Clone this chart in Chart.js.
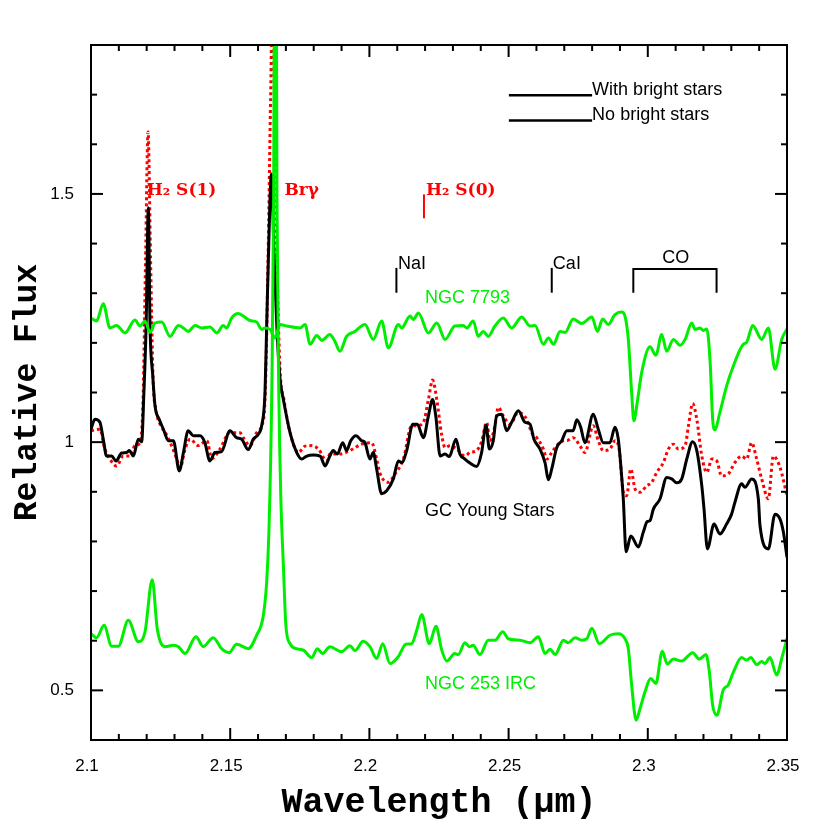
<!DOCTYPE html>
<html>
<head>
<meta charset="utf-8">
<script src="https://cdn.jsdelivr.net/npm/chart.js@4.4.1/dist/chart.umd.min.js"></script>
<style>
  html, body { margin: 0; background: #fff; }
  #wrap { width: 830px; height: 830px; }
</style>
</head>
<body>
<div id="wrap"><canvas id="Chart"></canvas></div>
<script>
// wavelength (micron) / relative flux
const ngc7793Wave = [2.1000,2.1020,2.1044,2.1068,2.1092,2.1122,2.1158,2.1176,2.1194,2.1212,2.1230,2.1254,2.1284,2.1314,2.1332,2.1349,2.1374,2.1398,2.1427,2.1452,2.1475,2.1487,2.1505,2.1529,2.1547,2.1571,2.1595,2.1613,2.1625,2.1643,2.1661,2.1679,2.1703,2.1751,2.1769,2.1787,2.1811,2.1829,2.1858,2.1876,2.1894,2.1918,2.1948,2.1984,2.2014,2.2044,2.2068,2.2104,2.2116,2.2146,2.2158,2.2176,2.2212,2.2242,2.2272,2.2307,2.2337,2.2350,2.2373,2.2391,2.2409,2.2427,2.2451,2.2481,2.2511,2.2547,2.2577,2.2595,2.2625,2.2643,2.2661,2.2685,2.2703,2.2732,2.2763,2.2799,2.2819,2.2838,2.2858,2.2882,2.2906,2.2918,2.2930,2.2942,2.2950,2.2962,2.2978,2.3008,2.3029,2.3050,2.3068,2.3092,2.3116,2.3134,2.3158,2.3170,2.3188,2.3199,2.3212,2.3224,2.3233,2.3241,2.3259,2.3283,2.3307,2.3343,2.3355,2.3377,2.3409,2.3433,2.3457,2.3481,2.3500];
const ngc7793Flux = [1.250,1.244,1.279,1.230,1.235,1.220,1.246,1.234,1.244,1.221,1.240,1.242,1.213,1.235,1.230,1.223,1.235,1.230,1.232,1.220,1.235,1.230,1.250,1.259,1.254,1.245,1.242,1.227,1.230,1.227,1.210,1.237,1.234,1.230,1.237,1.197,1.215,1.205,1.217,1.203,1.183,1.213,1.223,1.237,1.207,1.244,1.190,1.237,1.230,1.254,1.247,1.260,1.220,1.240,1.207,1.234,1.235,1.230,1.244,1.213,1.223,1.213,1.234,1.250,1.230,1.252,1.234,1.235,1.197,1.210,1.197,1.223,1.221,1.248,1.239,1.252,1.223,1.248,1.237,1.257,1.262,1.254,1.207,1.100,1.043,1.080,1.140,1.192,1.175,1.217,1.183,1.207,1.195,1.207,1.240,1.227,1.230,1.225,1.228,1.160,1.046,1.025,1.060,1.113,1.153,1.197,1.201,1.235,1.207,1.230,1.147,1.207,1.228];

const gcWithWave = [2.1000,2.1014,2.1032,2.1044,2.1056,2.1074,2.1090,2.1110,2.1128,2.1138,2.1152,2.1170,2.1182,2.1190,2.1198,2.1206,2.1212,2.1222,2.1230,2.1245,2.1260,2.1278,2.1296,2.1317,2.1332,2.1349,2.1367,2.1392,2.1409,2.1427,2.1445,2.1469,2.1499,2.1523,2.1541,2.1565,2.1583,2.1601,2.1613,2.1625,2.1631,2.1637,2.1648,2.1658,2.1668,2.1679,2.1691,2.1715,2.1739,2.1757,2.1775,2.1798,2.1823,2.1841,2.1858,2.1870,2.1885,2.1904,2.1918,2.1933,2.1952,2.1972,2.1984,2.2002,2.2014,2.2026,2.2044,2.2062,2.2086,2.2104,2.2116,2.2134,2.2156,2.2172,2.2194,2.2212,2.2227,2.2239,2.2254,2.2272,2.2287,2.2311,2.2325,2.2343,2.2361,2.2385,2.2403,2.2419,2.2431,2.2445,2.2457,2.2475,2.2493,2.2511,2.2535,2.2559,2.2577,2.2591,2.2613,2.2631,2.2643,2.2655,2.2673,2.2691,2.2709,2.2732,2.2745,2.2759,2.2774,2.2804,2.2822,2.2840,2.2864,2.2882,2.2894,2.2904,2.2912,2.2922,2.2939,2.2966,2.2984,2.2998,2.3008,2.3020,2.3044,2.3068,2.3086,2.3104,2.3122,2.3140,2.3161,2.3176,2.3194,2.3202,2.3214,2.3238,2.3259,2.3283,2.3301,2.3313,2.3337,2.3349,2.3373,2.3397,2.3403,2.3433,2.3457,2.3475,2.3487,2.3500];
const gcWithFlux = [1.026,1.046,1.040,1.006,0.972,0.972,0.962,0.978,0.979,0.983,0.972,1.006,1.001,1.100,1.234,1.472,1.234,1.133,1.073,1.046,1.026,1.003,1.003,0.942,0.979,1.023,1.013,1.013,0.999,0.962,0.979,0.981,1.023,1.009,1.006,0.985,1.006,1.016,1.033,1.100,1.234,1.367,1.540,1.367,1.227,1.127,1.086,1.019,0.979,0.966,0.972,0.974,0.972,0.952,0.972,0.983,0.976,0.999,0.983,1.003,1.013,1.003,0.999,0.966,0.979,0.946,0.896,0.902,0.926,0.962,0.959,0.983,1.036,1.036,1.009,1.053,1.086,1.050,0.972,0.976,0.971,1.006,0.976,0.966,0.958,0.951,0.979,1.034,0.986,1.003,1.053,1.056,1.023,1.040,1.063,1.040,1.036,1.006,0.986,0.958,0.924,0.946,0.989,1.003,1.023,1.023,1.045,1.030,0.999,1.056,1.026,0.999,0.999,1.030,1.006,0.946,0.886,0.779,0.811,0.789,0.819,0.840,0.842,0.865,0.886,0.929,0.926,0.918,0.926,0.966,1.001,0.983,0.912,0.865,0.785,0.835,0.815,0.835,0.855,0.879,0.916,0.909,0.926,0.886,0.832,0.785,0.855,0.845,0.819,0.768];

const gcNoWave = [2.1000,2.1032,2.1050,2.1068,2.1092,2.1116,2.1140,2.1158,2.1176,2.1187,2.1196,2.1205,2.1214,2.1223,2.1233,2.1248,2.1266,2.1284,2.1308,2.1320,2.1338,2.1356,2.1385,2.1416,2.1434,2.1463,2.1499,2.1535,2.1547,2.1571,2.1595,2.1613,2.1625,2.1636,2.1645,2.1652,2.1659,2.1668,2.1679,2.1693,2.1715,2.1745,2.1769,2.1793,2.1817,2.1847,2.1858,2.1894,2.1930,2.1972,2.2008,2.2026,2.2037,2.2068,2.2092,2.2122,2.2152,2.2170,2.2194,2.2212,2.2227,2.2242,2.2260,2.2272,2.2290,2.2314,2.2343,2.2361,2.2385,2.2403,2.2421,2.2433,2.2451,2.2463,2.2481,2.2505,2.2535,2.2565,2.2583,2.2601,2.2625,2.2637,2.2655,2.2673,2.2697,2.2709,2.2732,2.2756,2.2774,2.2804,2.2822,2.2840,2.2864,2.2882,2.2897,2.2912,2.2924,2.2939,2.2954,2.2972,2.2996,2.3014,2.3032,2.3056,2.3074,2.3092,2.3110,2.3134,2.3146,2.3161,2.3176,2.3194,2.3212,2.3230,2.3248,2.3265,2.3289,2.3313,2.3337,2.3355,2.3373,2.3391,2.3409,2.3433,2.3451,2.3475,2.3500];
const gcNoFlux = [1.023,1.026,0.986,0.966,0.952,0.972,0.972,0.993,0.999,1.086,1.367,1.625,1.367,1.127,1.066,1.036,1.020,1.000,0.966,0.948,0.986,1.006,0.993,1.003,0.967,0.986,1.019,1.019,1.009,0.993,1.019,1.033,1.086,1.367,1.689,1.890,1.689,1.367,1.147,1.086,1.019,0.979,0.992,0.993,0.986,0.962,0.976,0.976,0.983,0.996,0.999,0.966,0.939,0.919,0.936,0.966,1.033,1.033,1.040,1.086,1.125,1.086,1.013,0.989,0.993,0.986,0.972,0.979,0.983,1.001,1.040,1.003,1.033,1.070,1.053,1.036,1.060,1.046,1.019,1.009,0.986,0.966,0.979,0.993,1.003,1.003,1.009,0.993,0.979,1.033,1.003,0.983,0.986,1.003,0.986,0.899,0.892,0.946,0.906,0.899,0.912,0.919,0.939,0.959,0.986,0.996,0.986,0.993,1.033,1.078,1.046,0.972,0.939,0.966,0.962,0.932,0.936,0.959,0.972,0.966,0.999,0.966,0.926,0.886,0.972,0.949,0.892];

const ngc253Wave = [2.1000,2.1020,2.1047,2.1074,2.1098,2.1134,2.1170,2.1194,2.1220,2.1238,2.1266,2.1296,2.1314,2.1338,2.1377,2.1403,2.1439,2.1469,2.1496,2.1523,2.1565,2.1595,2.1619,2.1631,2.1639,2.1649,2.1656,2.1662,2.1668,2.1675,2.1682,2.1691,2.1700,2.1715,2.1745,2.1763,2.1793,2.1813,2.1832,2.1858,2.1900,2.1930,2.1948,2.1978,2.2002,2.2026,2.2048,2.2074,2.2104,2.2131,2.2152,2.2170,2.2188,2.2215,2.2239,2.2260,2.2278,2.2307,2.2319,2.2343,2.2359,2.2373,2.2397,2.2427,2.2451,2.2479,2.2499,2.2541,2.2577,2.2607,2.2631,2.2649,2.2667,2.2697,2.2714,2.2739,2.2763,2.2781,2.2799,2.2826,2.2864,2.2894,2.2918,2.2930,2.2942,2.2958,2.2972,2.2990,2.3010,2.3029,2.3052,2.3070,2.3092,2.3122,2.3161,2.3185,2.3209,2.3221,2.3233,2.3248,2.3271,2.3289,2.3307,2.3337,2.3355,2.3370,2.3391,2.3409,2.3421,2.3439,2.3463,2.3481,2.3500];
const ngc253Flux = [0.614,0.606,0.631,0.589,0.589,0.641,0.598,0.618,0.723,0.624,0.588,0.591,0.588,0.574,0.608,0.588,0.606,0.584,0.576,0.593,0.584,0.611,0.651,0.718,0.819,1.086,1.490,2.500,1.490,1.086,0.886,0.752,0.631,0.594,0.583,0.581,0.566,0.584,0.574,0.588,0.578,0.590,0.580,0.599,0.588,0.564,0.594,0.554,0.568,0.593,0.594,0.621,0.653,0.594,0.629,0.581,0.559,0.574,0.572,0.596,0.588,0.591,0.572,0.601,0.601,0.618,0.604,0.601,0.596,0.608,0.574,0.583,0.572,0.601,0.596,0.606,0.601,0.604,0.625,0.594,0.611,0.614,0.604,0.584,0.511,0.440,0.463,0.497,0.524,0.514,0.579,0.553,0.563,0.559,0.576,0.563,0.572,0.538,0.470,0.450,0.501,0.511,0.536,0.566,0.561,0.566,0.552,0.558,0.554,0.566,0.531,0.564,0.604];

const xMajorTicks = [2.1, 2.15, 2.2, 2.25, 2.3, 2.35];
const xTickLabels = ['2.1', '2.15', '2.2', '2.25', '2.3', '2.35'];
const yMajorTicks = [0.5, 1, 1.5];
const yTickLabels = ['0.5', '1', '1.5'];

const GREEN = 'rgb(0,238,0)';
const RED = '#ff0000';
const SANS = '"Liberation Sans", Arial, sans-serif';

const toPoints = (xs, ys) => xs.map((x, i) => ({ x, y: ys[i] }));

// feature markers: tick line x, y1..y2 and label position, data units
const featureLines = [
    { text: 'NaI', x: 2.2097, y1: 1.351, y2: 1.301, tx: 2.2103, ty: 1.349 },
    { text: 'CaI', x: 2.2655, y1: 1.351, y2: 1.301, tx: 2.2659, ty: 1.349 }
];

const annotations = {
    id: 'annotations',
    afterDatasetsDraw(chart) {
        const { ctx, chartArea: a, scales: { x, y } } = chart;
        const X = v => x.getPixelForValue(v);
        const Y = v => y.getPixelForValue(v);
        const line = (x1, y1, x2, y2) => {
            ctx.beginPath(); ctx.moveTo(x1, y1); ctx.lineTo(x2, y2); ctx.stroke();
        };
        ctx.save();

        // frame with inward ticks on all four sides
        ctx.strokeStyle = '#000';
        ctx.lineWidth = 2;
        ctx.strokeRect(a.left, a.top, a.right - a.left, a.bottom - a.top);
        for (let i = 0; i <= 25; i++) {
            const px = X(2.1 + i * 0.01);
            const len = i % 5 === 0 ? 12 : 6;
            line(px, a.bottom, px, a.bottom - len);
            line(px, a.top, px, a.top + len);
        }
        for (let i = 4; i <= 18; i++) {
            const py = Y(i / 10);
            const len = i % 5 === 0 ? 12 : 6;
            line(a.left, py, a.left + len, py);
            line(a.right, py, a.right - len, py);
        }

        // red emission-line labels
        ctx.fillStyle = RED;
        ctx.strokeStyle = RED;
        ctx.font = 'bold 17px "DejaVu Serif", serif';
        ctx.textAlign = 'left';
        ctx.textBaseline = 'alphabetic';
        ctx.fillText('H\u2082 S(1)', X(2.1200), Y(1.497));
        ctx.fillText('Br\u03b3', X(2.1695), Y(1.497));
        ctx.fillText('H\u2082 S(0)', X(2.2203), Y(1.497));
        ctx.lineWidth = 2;
        line(X(2.2196), Y(1.499), X(2.2196), Y(1.451));

        // absorption features
        ctx.fillStyle = '#000';
        ctx.strokeStyle = '#000';
        ctx.font = '18px ' + SANS;
        featureLines.forEach(f => {
            line(X(f.x), Y(f.y1), X(f.x), Y(f.y2));
            ctx.fillText(f.text, X(f.tx), Y(f.ty));
        });
        ctx.beginPath();
        ctx.moveTo(X(2.2948), Y(1.301));
        ctx.lineTo(X(2.2948), Y(1.349));
        ctx.lineTo(X(2.3247), Y(1.349));
        ctx.lineTo(X(2.3247), Y(1.301));
        ctx.stroke();
        ctx.textAlign = 'center';
        ctx.fillText('CO', X(2.3100), Y(1.361));

        // spectrum names
        ctx.textAlign = 'left';
        ctx.fillStyle = GREEN;
        ctx.fillText('NGC 7793', X(2.2200), Y(1.281));
        ctx.fillText('NGC 253 IRC', X(2.2200), Y(0.503));
        ctx.fillStyle = '#000';
        ctx.fillText('GC Young Stars', X(2.2200), Y(0.852));

        // legend
        ctx.lineWidth = 2.5;
        line(X(2.2501), Y(1.699), X(2.2800), Y(1.699));
        line(X(2.2501), Y(1.648), X(2.2800), Y(1.648));
        ctx.fillText('With bright stars', X(2.2800), Y(1.699));
        ctx.fillText('No bright stars', X(2.2800), Y(1.648));
        ctx.restore();
    }
};

const data = {
    datasets: [
        {
            label: 'NGC 7793',
            data: toPoints(ngc7793Wave, ngc7793Flux),
            borderColor: GREEN,
            borderWidth: 3,
            order: 0
        },
        {
            label: 'NGC 253 IRC',
            data: toPoints(ngc253Wave, ngc253Flux),
            borderColor: GREEN,
            borderWidth: 3,
            order: 0
        },
        {
            label: 'With bright stars',
            data: toPoints(gcWithWave, gcWithFlux),
            borderColor: '#000',
            borderWidth: 3,
            order: 1
        },
        {
            label: 'No bright stars',
            data: toPoints(gcNoWave, gcNoFlux),
            borderColor: RED,
            borderWidth: 3,
            borderDash: [3, 3],
            order: 2
        }
    ]
};

const config = {
    type: 'line',
    data,
    options: {
        responsive: true,
        maintainAspectRatio: false,
        animation: false,
        devicePixelRatio: 1,
        layout: { padding: { left: 0, right: 43, top: 45, bottom: 0 } },
        elements: {
            point: { radius: 0 },
            line: { cubicInterpolationMode: 'monotone', fill: false }
        },
        scales: {
            x: {
                type: 'linear',
                min: 2.1,
                max: 2.35,
                grid: { display: false, drawTicks: false },
                border: { display: false },
                afterBuildTicks: s => { s.ticks = xMajorTicks.map(v => ({ value: v })); },
                afterFit: s => { s.height = 90; },
                ticks: {
                    color: '#000',
                    font: { family: SANS, size: 17 },
                    padding: 16,
                    labelOffset: -4,
                    maxRotation: 0,
                    callback: (v) => xTickLabels[xMajorTicks.indexOf(+v.toFixed(2))]
                },
                title: {
                    display: true,
                    text: 'Wavelength (\u03bcm)',
                    color: '#000',
                    font: { family: '"Liberation Mono", monospace', size: 35, weight: 'bold' },
                    padding: 6
                }
            },
            y: {
                min: 0.4,
                max: 1.8,
                grid: { display: false, drawTicks: false },
                border: { display: false },
                afterBuildTicks: s => { s.ticks = yMajorTicks.map(v => ({ value: v })); },
                afterFit: s => { s.width = 91; },
                ticks: {
                    color: '#000',
                    font: { family: SANS, size: 17 },
                    padding: 17,
                    callback: (v) => yTickLabels[yMajorTicks.indexOf(+v.toFixed(1))]
                },
                title: {
                    display: true,
                    text: 'Relative Flux',
                    color: '#000',
                    font: { family: '"Liberation Mono", monospace', size: 33, weight: 'bold' },
                    padding: 8
                }
            }
        },
        plugins: {
            legend: { display: false },
            tooltip: { enabled: false }
        }
    },
    plugins: [annotations]
};

const myChart = new Chart(document.getElementById('Chart'), config);
</script>
</body>
</html>
